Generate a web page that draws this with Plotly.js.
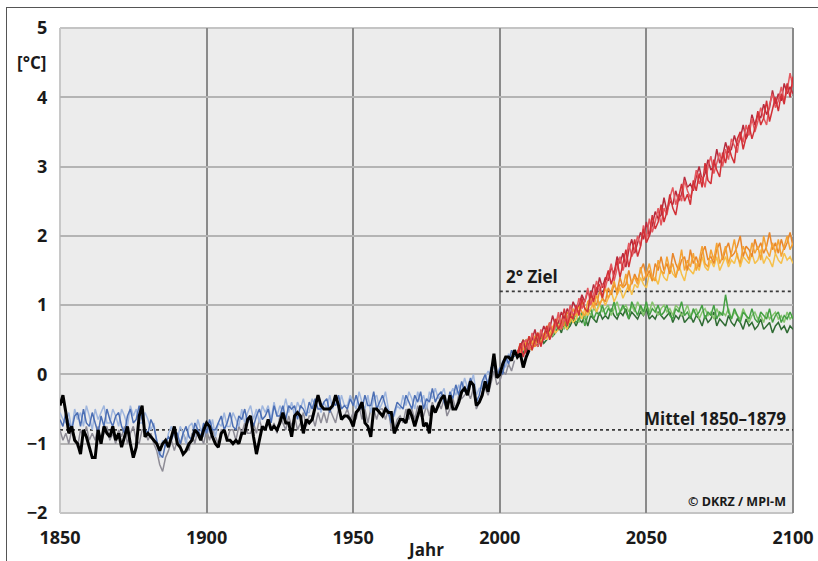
<!DOCTYPE html>
<html><head><meta charset="utf-8">
<script src="https://cdn.plot.ly/plotly-3.0.1.min.js"></script>
<style>
html,body{margin:0;padding:0;background:#fff;}
#chart{width:818px;height:561px;position:absolute;left:0;top:0;}
#frame{position:absolute;left:6px;top:7px;width:830px;height:570px;border-left:1.5px solid #555;border-top:1.5px solid #555;pointer-events:none;}
</style>
</head><body><div id="chart"></div><div id="frame"></div>
<script>
// ---- data (temperature anomaly, °C) ----
const histStart = 1850;   // first year of historical series
const obsStart = 1850;    // first year of observed (black) series
const futStart = 2006;    // first year of scenario series

const observed = [
-0.45,-0.30,-0.55,-0.85,-0.75,-0.95,-1.0,-1.15,-0.8,-0.9,
-1.05,-1.2,-1.2,-0.8,-1.0,-0.75,-0.85,-0.9,-0.75,-0.95,
-0.85,-1.05,-0.9,-0.75,-1.0,-1.2,-1.05,-0.6,-0.45,-0.9,
-0.85,-0.9,-0.95,-1.0,-1.1,-1.0,-0.95,-1.05,-0.9,-0.75,
-1.0,-1.05,-1.15,-1.1,-1.0,-0.95,-0.8,-0.85,-0.95,-0.8,
-0.7,-0.75,-0.9,-1.0,-1.05,-0.85,-0.8,-0.95,-0.95,-1.0,
-0.95,-1.0,-0.85,-0.85,-0.65,-0.6,-0.9,-1.15,-0.95,-0.75,
-0.8,-0.65,-0.8,-0.75,-0.8,-0.7,-0.55,-0.7,-0.7,-0.9,
-0.6,-0.55,-0.6,-0.85,-0.65,-0.7,-0.65,-0.45,-0.3,-0.45,
-0.5,-0.5,-0.5,-0.45,-0.3,-0.45,-0.65,-0.6,-0.6,-0.65,
-0.75,-0.55,-0.5,-0.4,-0.7,-0.75,-0.9,-0.5,-0.5,-0.55,
-0.6,-0.5,-0.55,-0.55,-0.85,-0.75,-0.65,-0.65,-0.7,-0.5,
-0.6,-0.75,-0.6,-0.45,-0.75,-0.7,-0.85,-0.45,-0.55,-0.45,
-0.35,-0.3,-0.5,-0.3,-0.5,-0.5,-0.4,-0.25,-0.2,-0.3,
-0.1,-0.15,-0.45,-0.4,-0.3,-0.1,-0.25,0.0,0.3,-0.05,
0.0,0.15,0.25,0.25,0.2,0.35,0.25,0.3,0.1,0.25,0.35];

const histBlue = [
-0.65,-0.75,-0.55,-0.7,-0.8,-0.6,-0.55,-0.75,-0.5,-0.7,
-0.75,-0.55,-0.7,-0.85,-0.6,-0.75,-0.5,-0.65,-0.75,-0.6,
-0.55,-0.75,-0.85,-0.6,-0.5,-0.7,-0.65,-0.45,-0.65,-0.8,
-0.85,-0.65,-0.75,-0.95,-1.15,-1.2,-1.0,-0.9,-0.95,-0.8,
-0.85,-1.0,-0.85,-0.75,-0.9,-0.95,-0.7,-0.8,-0.9,-0.7,
-0.85,-0.65,-0.8,-0.8,-0.7,-0.6,-0.8,-0.7,-0.55,-0.75,
-0.8,-0.6,-0.65,-0.5,-0.7,-0.6,-0.75,-0.6,-0.5,-0.65,
-0.6,-0.5,-0.7,-0.45,-0.6,-0.6,-0.45,-0.65,-0.45,-0.5,
-0.45,-0.65,-0.45,-0.5,-0.6,-0.4,-0.5,-0.35,-0.5,-0.5,
-0.4,-0.35,-0.55,-0.4,-0.45,-0.3,-0.5,-0.45,-0.5,-0.35,
-0.45,-0.3,-0.45,-0.5,-0.3,-0.45,-0.45,-0.25,-0.5,-0.4,
-0.3,-0.45,-0.55,-0.7,-0.55,-0.4,-0.45,-0.5,-0.3,-0.4,
-0.5,-0.3,-0.4,-0.25,-0.5,-0.35,-0.4,-0.2,-0.4,-0.3,
-0.25,-0.4,-0.5,-0.25,-0.35,-0.15,-0.3,-0.1,-0.25,-0.2,
-0.05,-0.2,-0.4,-0.3,-0.1,0.0,-0.15,0.1,0.15,-0.05,
0.1,0.0,0.25,0.15,0.35,0.25];

const histLightBlue = [
-0.55,-0.65,-0.7,-0.55,-0.8,-0.5,-0.65,-0.55,-0.75,-0.45,
-0.6,-0.8,-0.5,-0.65,-0.55,-0.45,-0.7,-0.7,-0.5,-0.6,
-0.75,-0.5,-0.6,-0.75,-0.45,-0.6,-0.5,-0.7,-0.7,-0.55,
-0.65,-0.8,-0.7,-1.0,-1.2,-0.95,-1.05,-0.85,-0.75,-0.9,
-0.95,-0.75,-0.85,-1.0,-0.75,-0.7,-0.9,-0.65,-0.8,-0.9,
-0.7,-0.85,-0.65,-0.9,-0.7,-0.75,-0.55,-0.75,-0.75,-0.55,
-0.65,-0.75,-0.5,-0.7,-0.55,-0.45,-0.65,-0.5,-0.7,-0.45,
-0.55,-0.45,-0.65,-0.4,-0.6,-0.45,-0.55,-0.35,-0.55,-0.4,
-0.6,-0.4,-0.5,-0.35,-0.55,-0.55,-0.35,-0.45,-0.3,-0.55,
-0.4,-0.5,-0.3,-0.5,-0.35,-0.5,-0.3,-0.45,-0.45,-0.3,
-0.4,-0.5,-0.25,-0.4,-0.5,-0.3,-0.55,-0.35,-0.3,-0.5,
-0.4,-0.25,-0.5,-0.6,-0.6,-0.45,-0.5,-0.3,-0.45,-0.25,
-0.35,-0.5,-0.25,-0.4,-0.3,-0.5,-0.25,-0.35,-0.2,-0.35,
-0.3,-0.2,-0.45,-0.3,-0.2,-0.3,-0.15,-0.25,-0.05,-0.2,
-0.15,0.0,-0.3,-0.2,-0.2,-0.05,0.05,-0.05,0.2,0.05,
0.0,0.2,0.1,0.3,0.2,0.35];

const histGray = [
-0.8,-0.95,-0.85,-1.0,-0.8,-0.9,-1.05,-0.8,-0.9,-0.75,
-0.95,-0.85,-0.95,-0.75,-1.0,-0.85,-0.75,-0.95,-0.85,-1.0,
-0.8,-0.9,-0.75,-1.0,-0.85,-0.75,-0.95,-1.0,-0.8,-0.8,
-0.95,-0.85,-1.0,-1.1,-1.3,-1.4,-1.2,-1.1,-0.95,-1.1,
-0.95,-1.05,-0.85,-0.95,-1.1,-0.85,-1.0,-0.8,-0.9,-1.0,
-0.8,-0.95,-0.8,-0.9,-1.0,-0.8,-0.8,-0.95,-0.8,-0.8,
-0.95,-0.75,-0.85,-0.7,-0.85,-0.85,-0.7,-0.85,-0.65,-0.8,
-0.8,-0.65,-0.8,-0.7,-0.85,-0.6,-0.7,-0.8,-0.6,-0.75,
-0.6,-0.8,-0.7,-0.55,-0.75,-0.6,-0.6,-0.75,-0.55,-0.7,
-0.55,-0.7,-0.5,-0.6,-0.7,-0.5,-0.65,-0.6,-0.5,-0.65,
-0.55,-0.65,-0.45,-0.65,-0.5,-0.7,-0.5,-0.5,-0.65,-0.5,
-0.5,-0.65,-0.5,-0.8,-0.8,-0.65,-0.6,-0.7,-0.5,-0.65,
-0.5,-0.65,-0.45,-0.6,-0.6,-0.45,-0.6,-0.4,-0.55,-0.4,
-0.5,-0.35,-0.6,-0.5,-0.35,-0.5,-0.3,-0.35,-0.3,-0.25,
-0.35,-0.2,-0.5,-0.4,-0.25,-0.2,-0.3,-0.1,0.05,-0.15,
-0.1,0.05,0.0,0.15,0.05,0.2];

const red1 = [
0.3,0.45,0.25,0.4,0.55,0.35,0.5,0.6,0.4,0.55,
0.7,0.5,0.6,0.8,0.65,0.75,0.95,0.7,0.85,0.8,
1.0,0.85,1.1,0.95,0.9,1.2,1.05,1.25,1.3,1.1,
1.35,1.5,1.3,1.45,1.65,1.4,1.6,1.8,1.55,1.75,
1.95,1.7,1.85,2.1,1.9,2.0,2.3,2.1,2.2,2.45,
2.2,2.35,2.6,2.4,2.3,2.55,2.75,2.5,2.6,2.45,
2.8,2.65,2.9,2.7,3.05,2.8,2.75,3.1,2.95,2.85,
3.2,3.05,3.3,3.15,3.05,3.4,3.5,3.25,3.45,3.6,
3.4,3.55,3.8,3.6,3.7,3.95,3.65,3.85,4.0,3.8,
4.05,3.9,4.2,4.0,4.3];
const red2 = [
0.35,0.25,0.45,0.5,0.35,0.6,0.45,0.4,0.65,0.5,
0.55,0.75,0.6,0.7,0.9,0.65,0.8,0.75,1.0,0.85,
0.9,1.1,0.95,1.05,1.25,1.0,1.15,1.35,1.2,1.3,
1.25,1.45,1.6,1.35,1.55,1.7,1.5,1.65,1.9,1.7,
1.8,2.0,1.85,2.15,1.95,2.25,2.05,2.2,2.4,2.15,
2.4,2.3,2.55,2.7,2.45,2.6,2.5,2.8,2.65,2.55,
2.7,2.95,2.75,2.85,2.7,3.0,3.15,2.9,3.05,3.2,
3.0,3.25,3.1,3.4,3.3,3.2,3.5,3.35,3.6,3.45,
3.7,3.5,3.65,3.85,3.7,3.6,3.9,4.05,3.85,3.95,
4.15,3.95,4.1,4.35,4.15];
const red3 = [
0.25,0.4,0.5,0.3,0.45,0.5,0.65,0.45,0.55,0.7,
0.6,0.65,0.85,0.7,0.75,0.9,0.8,0.95,0.85,1.05,
0.95,1.0,1.15,1.05,1.2,1.1,1.3,1.15,1.4,1.25,
1.4,1.35,1.55,1.45,1.7,1.6,1.75,1.55,1.8,1.95,
1.75,1.9,2.05,1.95,2.2,2.0,2.15,2.35,2.25,2.3,
2.55,2.35,2.5,2.45,2.65,2.5,2.6,2.85,2.7,2.75,
2.65,2.85,3.0,2.8,2.9,3.1,2.95,3.0,3.25,3.05,
3.15,3.35,3.2,3.25,3.45,3.3,3.4,3.6,3.4,3.5,
3.75,3.6,3.75,3.7,3.9,3.75,3.85,4.1,3.9,4.05,
3.95,4.2,4.05,4.15,4.05];

const orange1 = [
0.3,0.45,0.35,0.5,0.4,0.35,0.55,0.6,0.45,0.55,
0.7,0.55,0.65,0.8,0.7,0.65,0.85,0.8,0.75,0.95,
0.85,1.0,0.9,0.85,1.05,1.1,0.95,1.15,1.0,1.1,
1.25,1.1,1.2,1.35,1.15,1.3,1.25,1.45,1.2,1.35,
1.4,1.3,1.55,1.35,1.45,1.6,1.4,1.35,1.65,1.5,
1.45,1.7,1.5,1.6,1.4,1.55,1.8,1.5,1.65,1.55,
1.75,1.5,1.65,1.85,1.6,1.55,1.8,1.65,1.9,1.6,
1.7,1.85,1.6,1.75,1.95,1.7,1.6,1.85,1.75,1.65,
1.9,1.75,1.85,1.65,2.0,1.8,1.7,1.9,1.75,1.95,
1.7,1.85,2.0,1.8,1.9];
const orange2 = [
0.35,0.3,0.5,0.4,0.55,0.45,0.4,0.6,0.55,0.5,
0.65,0.75,0.6,0.7,0.85,0.75,0.7,0.9,0.85,0.8,
0.95,0.9,1.05,0.95,0.9,1.15,1.05,1.0,1.2,1.1,
1.05,1.25,1.15,1.3,1.2,1.4,1.25,1.3,1.5,1.3,
1.45,1.35,1.5,1.6,1.4,1.5,1.35,1.6,1.5,1.7,
1.5,1.6,1.45,1.75,1.6,1.5,1.65,1.7,1.5,1.8,
1.6,1.7,1.55,1.75,1.85,1.65,1.7,1.6,1.8,1.9,
1.65,1.8,1.9,1.7,1.75,1.85,2.0,1.7,1.85,1.8,
1.7,1.95,1.8,1.9,1.75,1.85,2.05,1.8,1.9,1.75,
1.95,1.8,1.9,2.05,1.85];
const orange3 = [
0.25,0.35,0.45,0.3,0.4,0.5,0.4,0.5,0.45,0.6,
0.5,0.6,0.7,0.6,0.65,0.75,0.7,0.65,0.85,0.75,
0.8,0.9,0.8,0.95,0.85,0.95,1.05,0.9,1.0,1.1,
1.0,1.1,1.2,1.05,1.15,1.25,1.1,1.2,1.3,1.15,
1.3,1.25,1.4,1.3,1.25,1.45,1.35,1.4,1.3,1.5,
1.4,1.35,1.55,1.45,1.4,1.6,1.45,1.35,1.55,1.5,
1.45,1.6,1.5,1.7,1.55,1.5,1.65,1.55,1.7,1.5,
1.6,1.7,1.55,1.65,1.6,1.75,1.55,1.7,1.65,1.6,
1.75,1.6,1.65,1.8,1.6,1.7,1.65,1.55,1.75,1.65,
1.6,1.75,1.65,1.7,1.6];

const green1 = [
0.3,0.4,0.5,0.35,0.45,0.55,0.45,0.5,0.6,0.5,
0.65,0.55,0.6,0.75,0.65,0.7,0.8,0.65,0.75,0.85,
0.75,0.8,0.9,0.7,0.85,0.95,0.8,0.9,0.85,1.0,
0.85,0.95,0.9,1.05,0.85,0.9,1.0,0.9,0.8,1.05,
0.95,0.85,1.0,0.9,1.05,0.85,0.95,0.9,1.0,0.85,
0.9,1.0,0.85,0.8,0.95,0.9,1.05,0.85,0.9,0.8,
0.95,0.85,0.9,1.0,0.8,0.9,0.85,1.0,0.8,0.9,
0.85,1.15,0.9,0.8,0.95,0.85,0.75,0.9,0.85,0.8,
0.95,0.8,0.75,0.9,0.85,0.8,0.95,0.75,0.85,0.9,
0.75,0.85,0.8,0.9,0.8];
const green2 = [
0.35,0.3,0.45,0.5,0.4,0.5,0.55,0.45,0.6,0.55,
0.6,0.7,0.55,0.65,0.75,0.7,0.65,0.85,0.75,0.8,
0.85,0.75,0.9,0.8,0.95,0.85,0.95,0.9,1.05,0.9,
0.95,1.0,0.85,0.95,1.05,0.9,0.95,1.0,0.9,1.0,
0.9,1.05,0.95,0.85,1.0,0.9,1.05,0.95,0.85,0.95,
1.0,0.9,0.95,0.85,1.0,0.95,0.85,0.9,1.0,0.85,
0.9,0.95,0.8,0.9,0.95,0.85,0.9,0.8,0.95,0.85,
0.9,0.85,0.95,0.8,0.9,0.85,0.8,0.95,0.85,0.75,
0.85,0.9,0.8,0.85,0.75,0.9,0.8,0.85,0.9,0.8,
0.85,0.75,0.9,0.8,0.85];
const green3 = [
0.25,0.35,0.3,0.45,0.35,0.4,0.5,0.4,0.55,0.45,
0.5,0.65,0.55,0.6,0.7,0.6,0.75,0.65,0.7,0.8,
0.7,0.8,0.75,0.85,0.7,0.85,0.8,0.75,0.9,0.8,
0.85,0.8,0.95,0.85,0.8,0.9,0.85,0.95,0.8,0.9,
0.85,0.8,0.9,0.85,0.95,0.8,0.85,0.8,0.9,0.85,
0.8,0.85,0.9,0.75,0.85,0.8,0.9,0.75,0.8,0.85,
0.75,0.85,0.8,0.7,0.85,0.75,0.8,0.9,0.7,0.8,
0.75,0.7,0.85,0.75,0.7,0.8,0.75,0.65,0.8,0.7,
0.75,0.65,0.7,0.8,0.65,0.7,0.75,0.6,0.7,0.75,
0.65,0.7,0.6,0.7,0.65];

// reference levels
const targetLevel = 1.2;     // "2° Ziel"
const targetStart = 2000;
const meanLevel = -0.8;      // "Mittel 1850–1879"
const meanStart = 1850;
const endYear = 2100;

const xTicks = [1850, 1900, 1950, 2000, 2050, 2100];
const yTicks = [-2, -1, 0, 1, 2, 3, 4, 5];
const yTickText = ['\u22122', '\u22121', '0', '1', '2', '3', '4', '5'];

// ---- build traces ----
const yrs = (start, arr) => arr.map((_, i) => start + i);
const line = (start, arr, color, width) => ({
  type: 'scatter', mode: 'lines', x: yrs(start, arr), y: arr,
  line: {color: color, width: width}, hoverinfo: 'skip'
});
const flat = (x0, x1, level) => ({
  type: 'scatter', mode: 'lines', x: [x0, x1], y: [level, level],
  line: {color: '#3a3a3a', width: 1.8, dash: 'dot'}, hoverinfo: 'skip'
});

const W = 1.5;
const traces = [
  flat(meanStart, endYear, meanLevel),
  flat(targetStart, endYear, targetLevel),
  line(histStart, histGray, '#8e8c96', W),
  line(histStart, histLightBlue, '#9fb6de', W),
  line(histStart, histBlue, '#4c6fb4', W),
  line(futStart, green3, '#2f6b33', W),
  line(futStart, green2, '#86c46e', W),
  line(futStart, green1, '#45a044', W),
  line(futStart, orange3, '#f6c04a', W),
  line(futStart, orange2, '#e8862a', W),
  line(futStart, orange1, '#f4a234', W),
  line(futStart, red3, '#b62a3c', W),
  line(futStart, red2, '#e4585e', W),
  line(futStart, red1, '#d23036', W),
  line(obsStart, observed, '#000000', 3)
];

const fnt = {family: '"Open Sans", "DejaVu Sans", sans-serif', color: '#1a1a1a'};

const layout = {
  width: 818, height: 561,
  margin: {l: 60, r: 25, t: 28, b: 48},
  paper_bgcolor: '#ffffff',
  plot_bgcolor: '#ececec',
  showlegend: false,
  xaxis: {
    range: [1850, 2100], tickvals: xTicks, ticktext: xTicks.map(String),
    showgrid: true, gridcolor: '#8a8a8a', gridwidth: 2,
    zeroline: false, showline: false,
    ticks: 'outside', ticklen: 8, tickcolor: 'rgba(0,0,0,0)',
    tickfont: Object.assign({size: 18, weight: 700}, fnt),
    title: {text: 'Jahr', standoff: 0, font: Object.assign({size: 17, weight: 700}, fnt)},
    fixedrange: true
  },
  yaxis: {
    range: [-2, 5], tickvals: yTicks, ticktext: yTickText,
    showgrid: true, gridcolor: '#b4b4b4', gridwidth: 2,
    zeroline: false, showline: false,
    ticks: 'outside', ticklen: 8, tickcolor: 'rgba(0,0,0,0)',
    tickfont: Object.assign({size: 18, weight: 700}, fnt),
    fixedrange: true
  },
  shapes: [
    {type: 'line', xref: 'paper', yref: 'paper', x0: 0, x1: 1, y0: 1, y1: 1, line: {color: '#c4c4c4', width: 2}, layer: 'below'},
    {type: 'line', xref: 'paper', yref: 'paper', x0: 0, x1: 1, y0: 0, y1: 0, line: {color: '#c4c4c4', width: 2}, layer: 'below'},
    {type: 'line', xref: 'paper', yref: 'paper', x0: 0, x1: 0, y0: 0, y1: 1, line: {color: '#c8c8c8', width: 2}, layer: 'below'},
    {type: 'line', xref: 'paper', yref: 'paper', x0: 1, x1: 1, y0: 0, y1: 1, line: {color: '#8a8a8a', width: 2}, layer: 'below'}
  ],
  annotations: [
    {xref: 'paper', yref: 'paper', x: -0.039, y: 0.928, xanchor: 'center', yanchor: 'middle',
     text: '[°C]', showarrow: false, font: Object.assign({size: 17, weight: 700}, fnt)},
    {xref: 'x', yref: 'y', x: 2001.5, y: 1.41, xanchor: 'left', yanchor: 'middle',
     text: '2° Ziel', showarrow: false, font: Object.assign({size: 17, weight: 700}, fnt)},
    {xref: 'x', yref: 'y', x: 2098.3, y: -0.63, xanchor: 'right', yanchor: 'middle',
     text: 'Mittel 1850\u20131879', showarrow: false, font: Object.assign({size: 17, weight: 700}, fnt)},
    {xref: 'x', yref: 'y', x: 2098.3, y: -1.84, xanchor: 'right', yanchor: 'middle',
     text: '© DKRZ / MPI-M', showarrow: false, font: Object.assign({size: 12.5, weight: 700}, fnt)}
  ]
};

Plotly.newPlot('chart', traces, layout, {displayModeBar: false, staticPlot: true});
</script></body></html>
